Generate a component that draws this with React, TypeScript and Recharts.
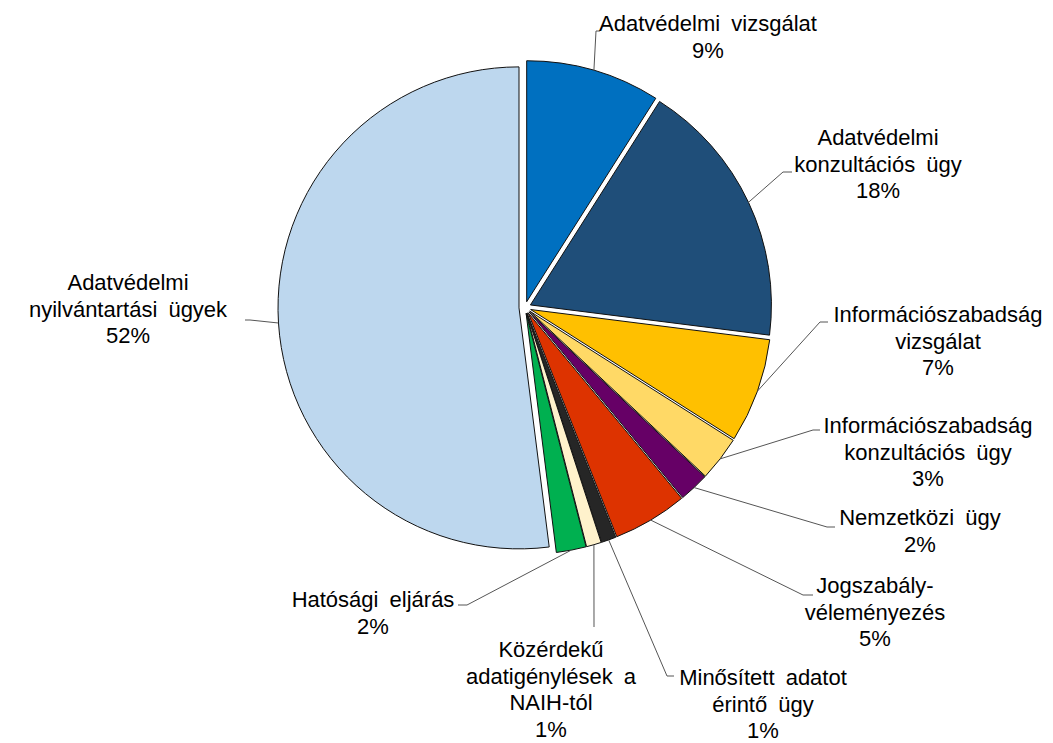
import { PieChart, Pie, Cell } from "recharts";

const CATEGORIES = [
  "Adatvédelmi vizsgálat",
  "Adatvédelmi konzultációs ügy",
  "Információszabadság vizsgálat",
  "Információszabadság konzultációs ügy",
  "Nemzetközi ügy",
  "Jogszabály-véleményezés",
  "Minősített adatot érintő ügy",
  "Közérdekű adatigénylések a NAIH-tól",
  "Hatósági eljárás",
  "Adatvédelmi nyilvántartási ügyek",
];

const VALUES = [9, 18, 7, 3, 2, 5, 1, 1, 2, 52];

// how Excel wrapped each category name
const LABEL_LINES = [
  ["Adatvédelmi vizsgálat"],
  ["Adatvédelmi", "konzultációs ügy"],
  ["Információszabadság", "vizsgálat"],
  ["Információszabadság", "konzultációs ügy"],
  ["Nemzetközi ügy"],
  ["Jogszabály-", "véleményezés"],
  ["Minősített adatot", "érintő ügy"],
  ["Közérdekű", "adatigénylések a", "NAIH-tól"],
  ["Hatósági eljárás"],
  ["Adatvédelmi", "nyilvántartási ügyek"],
];

const COLORS = [
  "#0070C0",
  "#1F4E79",
  "#FFC000",
  "#FFD966",
  "#660066",
  "#DD3300",
  "#262626",
  "#FFF2CC",
  "#00B050",
  "#BDD7EE",
];

// label placement: text centre, first baseline, leader elbow (ex, ey), hook end hx
const LABEL_POS = [
  { x: 708, y: 31, ex: 596, ey: 31, hx: 600 },
  { x: 878, y: 145, ex: 783, ey: 172, hx: 792 },
  { x: 938, y: 322, ex: 820, ey: 322, hx: 828 },
  { x: 928, y: 433, ex: 813, ey: 430, hx: 820 },
  { x: 920, y: 525, ex: 827, ey: 527, hx: 835 },
  { x: 875, y: 593, ex: 803, ey: 595, hx: 813 },
  { x: 763, y: 685, ex: 667, ey: 676, hx: 674 },
  { x: 551, y: 657, ex: 594, ey: 627, hx: 594 },
  { x: 373, y: 607, ex: 467, ey: 605, hx: 458 },
  { x: 128, y: 290, ex: 250, ey: 320, hx: 245 },
];

const W = 1053;
const H = 743;
const CX = 525;
const CY = 307.5;
const R = 241;
const EXPLODE = 6;
const LINE_H = 26.5;
const FONT = "'Liberation Sans', Arial, sans-serif";
const RADIAN = Math.PI / 180;

const data = CATEGORIES.map((name, i) => ({ name, value: VALUES[i] }));
const total = VALUES.reduce((a, b) => a + b, 0);

// mid angle of each slice, recharts convention (start 90, clockwise)
const midAngles = VALUES.map((v, i) => {
  const before = VALUES.slice(0, i).reduce((a, b) => a + b, 0);
  return 90 - (360 * (before + v / 2)) / total;
});

const renderLabel = (props: any) => {
  const { index, midAngle } = props;
  const pos = LABEL_POS[index];
  const px = CX + (R + EXPLODE) * Math.cos(-midAngle * RADIAN);
  const py = CY + (R + EXPLODE) * Math.sin(-midAngle * RADIAN);
  const lines = [...LABEL_LINES[index], `${Math.round((VALUES[index] / total) * 100)}%`];
  return (
    <g key={`lbl-${index}`}>
      <polyline
        points={`${px},${py} ${pos.ex},${pos.ey} ${pos.hx},${pos.ey}`}
        fill="none"
        stroke="#555"
        strokeWidth={1}
      />
      <text
        x={pos.x}
        y={pos.y}
        textAnchor="middle"
        fill="#000"
        fontSize={22}
        fontFamily={FONT}
        style={{ wordSpacing: 5 }}
      >
        {lines.map((t, k) => (
          <tspan key={k} x={pos.x} y={pos.y + k * LINE_H}>
            {t}
          </tspan>
        ))}
      </text>
    </g>
  );
};

export default function App() {
  return (
    <div style={{ position: "absolute", left: 0, top: 0, width: W, height: H, background: "#fff" }}>
      <PieChart width={W} height={H} margin={{ top: 0, right: 0, bottom: 0, left: 0 }}>
        {VALUES.map((_, i) => (
          <Pie
            key={`slice-${i}`}
            data={data}
            dataKey="value"
            nameKey="name"
            cx={CX + EXPLODE * Math.cos(midAngles[i] * RADIAN)}
            cy={CY - EXPLODE * Math.sin(midAngles[i] * RADIAN)}
            outerRadius={R}
            startAngle={90}
            endAngle={-270}
            isAnimationActive={false}
            labelLine={false}
          >
            {data.map((_, j) => (
              <Cell
                key={`c-${i}-${j}`}
                fill={j === i ? COLORS[j] : "none"}
                stroke={j === i ? "#111" : "none"}
                strokeWidth={1}
              />
            ))}
          </Pie>
        ))}
        <Pie
          data={data}
          dataKey="value"
          nameKey="name"
          cx={CX}
          cy={CY}
          outerRadius={R}
          startAngle={90}
          endAngle={-270}
          isAnimationActive={false}
          fill="none"
          stroke="none"
          label={renderLabel}
          labelLine={false}
        >
          {data.map((_, j) => (
            <Cell key={`l-${j}`} fill="none" stroke="none" />
          ))}
        </Pie>
      </PieChart>
    </div>
  );
}
